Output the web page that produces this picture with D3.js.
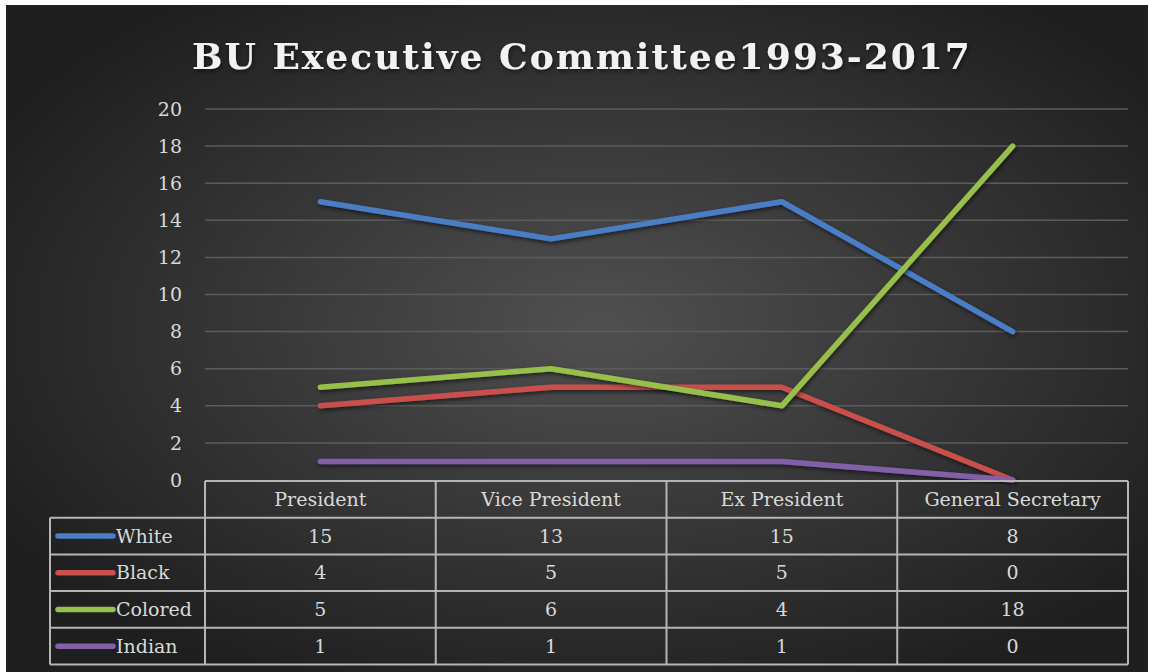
<!DOCTYPE html>
<html lang="en">
<head>
  <meta charset="UTF-8">
  <title>BU Executive Committee 1993-2017</title>
  <script src="https://d3js.org/d3.v7.min.js"></script>
  <style>
    body { margin: 0; background: #ffffff; }
    svg { display: block; }
    .tick-label { font-family: "DejaVu Serif", "Liberation Serif", serif; font-size: 19px; fill: #d9d9d9; }
    .cell { font-family: "DejaVu Serif", "Liberation Serif", serif; font-size: 19px; fill: #d9d9d9; }
  </style>
</head>
<body>
  <svg width="1149" height="672"></svg>
  <script>
    // data
    const categories = ["President", "Vice President", "Ex President", "General Secretary"];
    const seriesNames = ["White", "Black", "Colored", "Indian"];
    const white = [15, 13, 15, 8];
    const black = [4, 5, 5, 0];
    const colored = [5, 6, 4, 18];
    const indian = [1, 1, 1, 0];
    const yTicks = [0, 2, 4, 6, 8, 10, 12, 14, 16, 18, 20];

    const colors = ["#4a7ec6", "#c9504c", "#98bf4c", "#8261a8"];
    const series = [white, black, colored, indian].map((values, i) => ({ name: seriesNames[i], values, color: colors[i] }));

    const W = 1149, H = 672;
    const plot = { left: 205, right: 1128, top: 109, bottom: 480 };
    const rowH = 36.7;
    const legendLeft = 50;

    const svg = d3.select("svg");
    const defs = svg.append("defs");

    const grad = defs.append("radialGradient")
      .attr("id", "bg").attr("cx", "52%").attr("cy", "48%").attr("r", "60%");
    grad.append("stop").attr("offset", "0%").attr("stop-color", "#505050");
    grad.append("stop").attr("offset", "100%").attr("stop-color", "#1f1f1f");

    const shadow = defs.append("filter").attr("id", "shadow")
      .attr("x", "-10%").attr("y", "-20%").attr("width", "120%").attr("height", "140%");
    shadow.append("feDropShadow").attr("dx", 1).attr("dy", 2).attr("stdDeviation", 2)
      .attr("flood-color", "#000").attr("flood-opacity", 0.6);

    // background with the thin white margin at top/left
    svg.append("rect").attr("x", 6).attr("y", 5).attr("width", W - 7).attr("height", H - 5)
      .attr("fill", "url(#bg)");

    // title
    svg.append("text")
      .attr("x", 582).attr("y", 69)
      .attr("text-anchor", "middle")
      .attr("font-family", "'DejaVu Serif', 'Liberation Serif', serif")
      .attr("font-weight", "bold")
      .attr("font-size", 36)
      .attr("letter-spacing", 2)
      .attr("fill", "#f2f2f2")
      .attr("filter", "url(#shadow)")
      .text("BU Executive Committee1993-2017");

    const x = d3.scaleBand().domain(categories).range([plot.left, plot.right]);
    const y = d3.scaleLinear().domain([0, 20]).range([plot.bottom, plot.top]);

    // gridlines
    svg.append("g").selectAll("line")
      .data(yTicks.filter(d => d > 0))
      .join("line")
      .attr("x1", plot.left).attr("x2", plot.right)
      .attr("y1", d => y(d)).attr("y2", d => y(d))
      .attr("stroke", "#5c5c5c").attr("stroke-width", 1.5);

    // y tick labels
    svg.append("g").selectAll("text")
      .data(yTicks)
      .join("text")
      .attr("class", "tick-label")
      .attr("x", 182).attr("y", d => y(d))
      .attr("dy", "0.35em")
      .attr("text-anchor", "end")
      .text(d => d);

    // lines
    const line = d3.line()
      .x((d, i) => x(categories[i]) + x.bandwidth() / 2)
      .y(d => y(d));

    svg.append("g").selectAll("path")
      .data(series)
      .join("path")
      .attr("d", d => line(d.values))
      .attr("fill", "none")
      .attr("stroke", d => d.color)
      .attr("stroke-width", 5.5)
      .attr("stroke-linecap", "round")
      .attr("stroke-linejoin", "round")
      .attr("filter", "url(#shadow)");

    // data table
    const table = svg.append("g");
    const tableTop = plot.bottom + 1;
    const rowY = i => tableTop + (i + 1) * rowH;
    const gridColor = "#b5b5b5";

    // header row
    table.append("line")
      .attr("x1", plot.left).attr("x2", plot.right)
      .attr("y1", tableTop).attr("y2", tableTop)
      .attr("stroke", gridColor).attr("stroke-width", 2);
    table.selectAll(".hdr")
      .data(categories)
      .join("text")
      .attr("class", "cell")
      .attr("x", d => x(d) + x.bandwidth() / 2)
      .attr("y", tableTop + rowH / 2)
      .attr("dy", "0.35em")
      .attr("text-anchor", "middle")
      .text(d => d);

    // horizontal rules
    table.selectAll(".hrule")
      .data(d3.range(series.length + 1))
      .join("line")
      .attr("x1", legendLeft).attr("x2", plot.right)
      .attr("y1", i => rowY(i)).attr("y2", i => rowY(i))
      .attr("stroke", gridColor).attr("stroke-width", 2);

    // vertical rules
    const colEdges = categories.map(c => x(c)).concat([plot.right]);
    table.selectAll(".vrule")
      .data(colEdges)
      .join("line")
      .attr("x1", d => d).attr("x2", d => d)
      .attr("y1", tableTop).attr("y2", rowY(series.length))
      .attr("stroke", gridColor).attr("stroke-width", 2);
    table.append("line")
      .attr("x1", legendLeft).attr("x2", legendLeft)
      .attr("y1", rowY(0)).attr("y2", rowY(series.length))
      .attr("stroke", gridColor).attr("stroke-width", 2);

    // rows: legend key + values
    const rows = table.selectAll(".row")
      .data(series)
      .join("g")
      .attr("transform", (d, i) => `translate(0, ${rowY(i) + rowH / 2})`);

    rows.append("line")
      .attr("x1", 58).attr("x2", 113)
      .attr("y1", 0).attr("y2", 0)
      .attr("stroke", d => d.color)
      .attr("stroke-width", 5.5)
      .attr("stroke-linecap", "round");

    rows.append("text")
      .attr("class", "cell")
      .attr("x", 116).attr("dy", "0.35em")
      .text(d => d.name);

    rows.selectAll(".val")
      .data(d => d.values)
      .join("text")
      .attr("class", "cell")
      .attr("x", (v, i) => x(categories[i]) + x.bandwidth() / 2)
      .attr("dy", "0.35em")
      .attr("text-anchor", "middle")
      .text(v => v);
  </script>
</body>
</html>
